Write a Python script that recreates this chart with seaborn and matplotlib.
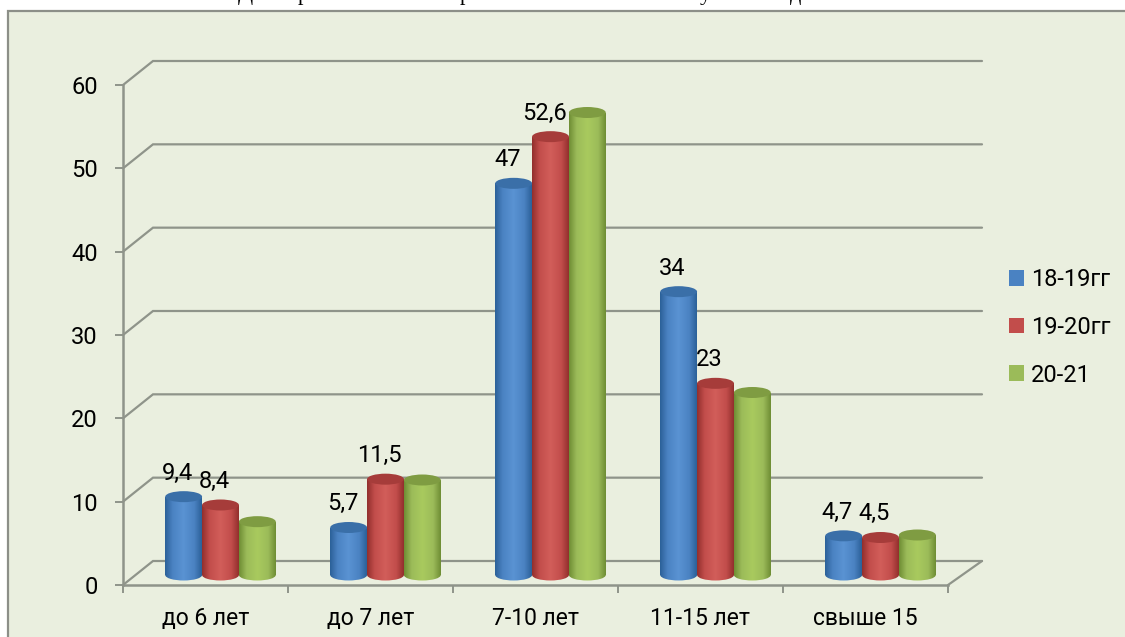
#!/usr/bin/env python3
import matplotlib
matplotlib.use("Agg")
import matplotlib.pyplot as plt
from matplotlib.colors import LinearSegmentedColormap
from matplotlib.patches import Ellipse, Rectangle
import numpy as np
import pandas as pd
import seaborn as sns

categories = ["до 6 лет", "до 7 лет", "7-10 лет", "11-15 лет", "свыше 15"]
series_names = ["18-19гг", "19-20гг", "20-21"]
values_1819 = [9.4, 5.7, 47, 34, 4.7]
values_1920 = [8.4, 11.5, 52.6, 23, 4.5]
values_2021 = [6.4, 11.4, 55.5, 21.9, 4.8]
label_1819 = ["9,4", "5,7", "47", "34", "4,7"]
label_1920 = ["8,4", "11,5", "52,6", "23", "4,5"]
y_ticks = [0, 10, 20, 30, 40, 50, 60]
# only the feet of the title line are left in the picture
title_bits = ["Д", "р", "р", "у", "д"]
title_px = [238, 298, 460, 700, 790]

# colours: dark edge, base, highlight, top cap
blue = ["#2c6199", "#4a82c2", "#5a93d3", "#3a6fa8"]
red = ["#93302e", "#c24d4b", "#d25e5a", "#a63c3a"]
green = ["#6f8e35", "#9bbb59", "#a9ca5e", "#7f9c42"]
colours = [blue, red, green]
grey = "#8f948a"
W, H = 1125, 637

sns.set_theme(style="white")
plt.rcParams["font.family"] = ["Roboto", "DejaVu Sans"]

df = pd.DataFrame({
    "cat": categories * 3,
    "series": np.repeat(series_names, 5),
    "val": values_1819 + values_1920 + values_2021,
})

fig = plt.figure(figsize=(W / 100, H / 100), dpi=100, facecolor="white")
fig.add_artist(Rectangle((8 / W, -0.1), 1.2, 1.1 - 11 / H, transform=fig.transFigure,
                         facecolor="#eaefdf", edgecolor="#8c8f88", linewidth=1.6, zorder=-5))
for bit, px in zip(title_bits, title_px):
    fig.text(px / W, 1.0, bit, family="Liberation Serif", fontsize=16, color="black",
             ha="left", va="baseline")

# flat frame: axis, ticks and the back wall lines
ax = fig.add_axes([123 / W, (H - 585) / H, 825 / W, 500 / H], facecolor="none")
ax.set_xlim(-0.5, 4.5)
ax.set_ylim(0, 60)
dx = 30 / 165
dx_right = 34 / 165
dy = 24 / (500 / 60)
for y in y_ticks:
    ax.plot([-0.5, -0.5 + dx, 4.5 + dx_right], [y, y + dy, y + dy], color=grey, lw=1.6,
            clip_on=False, solid_joinstyle="miter")
ax.plot([4.5, 4.5 + dx_right], [0, dy], color=grey, lw=1.6, clip_on=False)
for name in ["top", "right"]:
    ax.spines[name].set_visible(False)
for name in ["left", "bottom"]:
    ax.spines[name].set_color(grey)
    ax.spines[name].set_linewidth(1.8)
ax.set_yticks(y_ticks)
ax.set_xticks(np.arange(-0.5, 5, 1))
ax.set_xticklabels([])
ax.set_xticks(range(5), categories, minor=True)
ax.tick_params(axis="x", which="major", length=5.5, width=1.4, color=grey, bottom=True)
ax.tick_params(axis="x", which="minor", length=0, pad=16, labelsize=16.5, labelcolor="black")
ax.tick_params(axis="y", length=6, width=1.4, color=grey, left=True, pad=12,
               labelsize=17, labelcolor="black")

# bars stand a bit further in than the axis
bx = fig.add_axes([138 / W, (H - 575) / H, 825 / W, 500 / H], facecolor="none")
sns.barplot(data=df, x="cat", y="val", hue="series", order=categories, hue_order=series_names,
            palette=[c[1] for c in colours], width=0.67, gap=0, saturation=1, ax=bx)
handles, labels = bx.get_legend_handles_labels()
bx.get_legend().remove()


def shade(axes, extent, clip, cmap, z):
    im = axes.imshow(np.linspace(0, 1, 64)[None, :], extent=extent, cmap=cmap,
                     aspect="auto", zorder=z)
    im.set_clip_box(fig.bbox)
    im.set_clip_path(clip)


cap_h = 11 / (500 / 60)
for i, (cont, col) in enumerate(zip(bx.containers, colours)):
    cmap = LinearSegmentedColormap.from_list(
        "cyl", [(0, col[0]), (0.2, col[1]), (0.5, col[2]), (0.8, col[1]), (1, col[0])])
    z = 3 + i
    for bar in cont:
        x0, w, h = bar.get_x(), bar.get_width(), bar.get_height()
        bar.set_visible(False)
        body = Rectangle((x0, 0), w, h, facecolor="none", edgecolor="none", zorder=z)
        foot = Ellipse((x0 + w / 2, 0), w, cap_h, facecolor="none", edgecolor="none",
                       clip_on=False, zorder=z)
        bx.add_patch(body)
        bx.add_patch(foot)
        shade(bx, (x0, x0 + w, 0, h), body, cmap, z + 0.1)
        shade(bx, (x0, x0 + w, -cap_h, cap_h), foot, cmap, z + 0.1)
        bx.add_patch(Ellipse((x0 + w / 2, h), w, cap_h, facecolor=col[3], edgecolor="none",
                             zorder=z + 0.2))

for cont, texts in zip(bx.containers, [label_1819, label_1920]):
    for bar, txt in zip(cont, texts):
        bx.annotate(txt, (bar.get_x() + bar.get_width() / 2, bar.get_height()),
                    xytext=(-4.5, 17), textcoords="offset points", ha="center", va="center",
                    fontsize=17, color="black", zorder=20)

bx.set_xlim(-0.5, 4.5)
bx.set_ylim(0, 60)
bx.axis("off")

leg = fig.legend(handles, labels, loc="upper left", bbox_to_anchor=(1009 / W, 1 - 268 / H),
                 bbox_transform=fig.transFigure, frameon=False, fontsize=17, handlelength=0.64,
                 handleheight=0.64, handletextpad=0.3, labelspacing=1.05, borderpad=0,
                 borderaxespad=0, labelcolor="black")
for patch in leg.get_patches():
    patch.set_linewidth(0)

fig.savefig("out.png", dpi=100)
plt.close(fig)
